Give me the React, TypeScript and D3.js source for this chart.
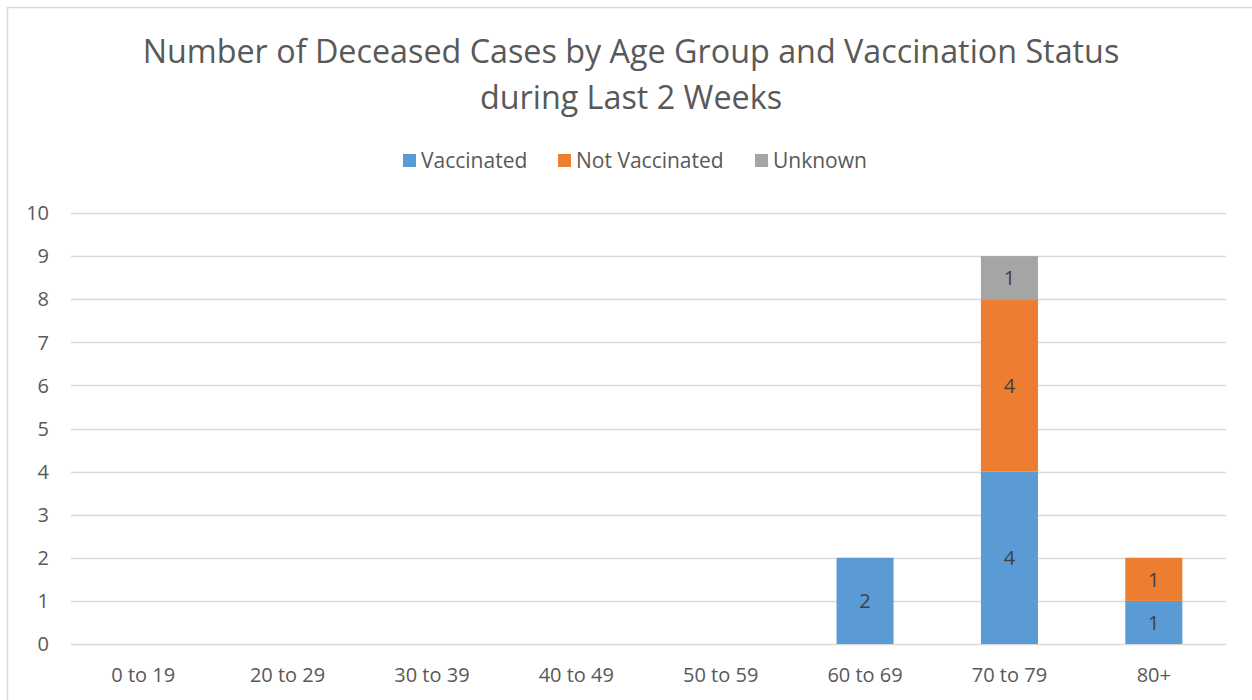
import React, { useEffect, useRef } from 'react';
import * as d3 from 'd3';

const ageGroups = ['0 to 19', '20 to 29', '30 to 39', '40 to 49', '50 to 59', '60 to 69', '70 to 79', '80+'];
const vaccinated = [0, 0, 0, 0, 0, 2, 4, 1];
const notVaccinated = [0, 0, 0, 0, 0, 0, 4, 1];
const unknown = [0, 0, 0, 0, 0, 0, 1, 0];
const seriesNames = ['Vaccinated', 'Not Vaccinated', 'Unknown'];
const seriesColors = ['#5B9BD5', '#ED7D31', '#A5A5A5'];
const yTicks = [0, 1, 2, 3, 4, 5, 6, 7, 8, 9, 10];

const FONT = '"Open Sans", sans-serif';

const App = () => {
    const svgRef = useRef<SVGSVGElement>(null);

    useEffect(() => {
        if (!svgRef.current) return;
        const width = 1252;
        const height = 700;
        const margin = { top: 213, right: 26, bottom: 56, left: 71 };

        const svg = d3.select(svgRef.current);
        svg.selectAll('*').remove();

        // chart frame
        svg.append('rect')
            .attr('x', 7.5).attr('y', 7.5)
            .attr('width', width + 20).attr('height', height + 20)
            .attr('fill', '#fff').attr('stroke', '#D9D9D9').attr('stroke-width', 1.5);

        const x = d3.scaleBand()
            .domain(ageGroups)
            .range([margin.left, width - margin.right])
            .paddingInner(0.605)
            .paddingOuter(0.3025);

        const y = d3.scaleLinear()
            .domain([0, 10])
            .range([height - margin.bottom, margin.top]);

        // grid
        svg.append('g')
            .selectAll('line')
            .data(yTicks)
            .enter()
            .append('line')
            .attr('x1', margin.left)
            .attr('x2', width - margin.right)
            .attr('y1', d => Math.round(y(d)) + 0.5)
            .attr('y2', d => Math.round(y(d)) + 0.5)
            .attr('stroke', '#D9D9D9')
            .attr('stroke-width', 1.5);

        // y labels
        svg.append('g')
            .selectAll('text')
            .data(yTicks)
            .enter()
            .append('text')
            .attr('x', 49)
            .attr('y', d => y(d))
            .attr('dy', '0.36em')
            .attr('text-anchor', 'end')
            .attr('fill', '#595959')
            .attr('font-size', '20px')
            .attr('font-family', FONT)
            .text(d => d);

        // x labels
        svg.append('g')
            .selectAll('text')
            .data(ageGroups)
            .enter()
            .append('text')
            .attr('x', d => (x(d) ?? 0) + x.bandwidth() / 2)
            .attr('y', height - margin.bottom + 31)
            .attr('dy', '0.36em')
            .attr('text-anchor', 'middle')
            .attr('fill', '#595959')
            .attr('font-size', '20px')
            .attr('font-family', FONT)
            .text(d => d);

        // stacked bars
        const rows = ageGroups.map((g, i) => ({
            group: g,
            Vaccinated: vaccinated[i],
            'Not Vaccinated': notVaccinated[i],
            Unknown: unknown[i]
        }));
        const stacked = d3.stack<any>().keys(seriesNames)(rows);

        stacked.forEach((layer, li) => {
            const g = svg.append('g');
            const cells = layer.filter(d => d[1] - d[0] > 0);
            g.selectAll('rect')
                .data(cells)
                .enter()
                .append('rect')
                .attr('x', d => x(d.data.group) ?? 0)
                .attr('y', d => y(d[1]))
                .attr('width', x.bandwidth())
                .attr('height', d => y(d[0]) - y(d[1]))
                .attr('fill', seriesColors[li]);
            g.selectAll('text')
                .data(cells)
                .enter()
                .append('text')
                .attr('x', d => (x(d.data.group) ?? 0) + x.bandwidth() / 2)
                .attr('y', d => (y(d[0]) + y(d[1])) / 2)
                .attr('dy', '0.36em')
                .attr('text-anchor', 'middle')
                .attr('fill', '#404040')
                .attr('font-size', '20px')
                .attr('font-family', FONT)
                .text(d => d[1] - d[0]);
        });

        // title
        const title = svg.append('text')
            .attr('text-anchor', 'middle')
            .attr('fill', '#595959')
            .attr('font-size', '32.3px')
            .attr('font-family', FONT);
        title.append('tspan').attr('x', 631).attr('y', 63).text('Number of Deceased Cases by Age Group and Vaccination Status');
        title.append('tspan').attr('x', 631).attr('y', 109).text('during Last 2 Weeks');

        // legend
        const legendItems = [
            { name: seriesNames[0], color: seriesColors[0], x: 403 },
            { name: seriesNames[1], color: seriesColors[1], x: 558 },
            { name: seriesNames[2], color: seriesColors[2], x: 755 }
        ];
        const legend = svg.append('g');
        legendItems.forEach(item => {
            legend.append('rect')
                .attr('x', item.x).attr('y', 154)
                .attr('width', 13).attr('height', 13)
                .attr('fill', item.color);
            legend.append('text')
                .attr('x', item.x + 18).attr('y', 160)
                .attr('dy', '0.36em')
                .attr('fill', '#595959')
                .attr('font-size', '21px')
                .attr('font-family', FONT)
                .text(item.name);
        });
    }, []);

    return (
        <svg ref={svgRef} width={1252} height={700}
            style={{ position: 'absolute', left: 0, top: 0, display: 'block' }} />
    );
};

export default App;
